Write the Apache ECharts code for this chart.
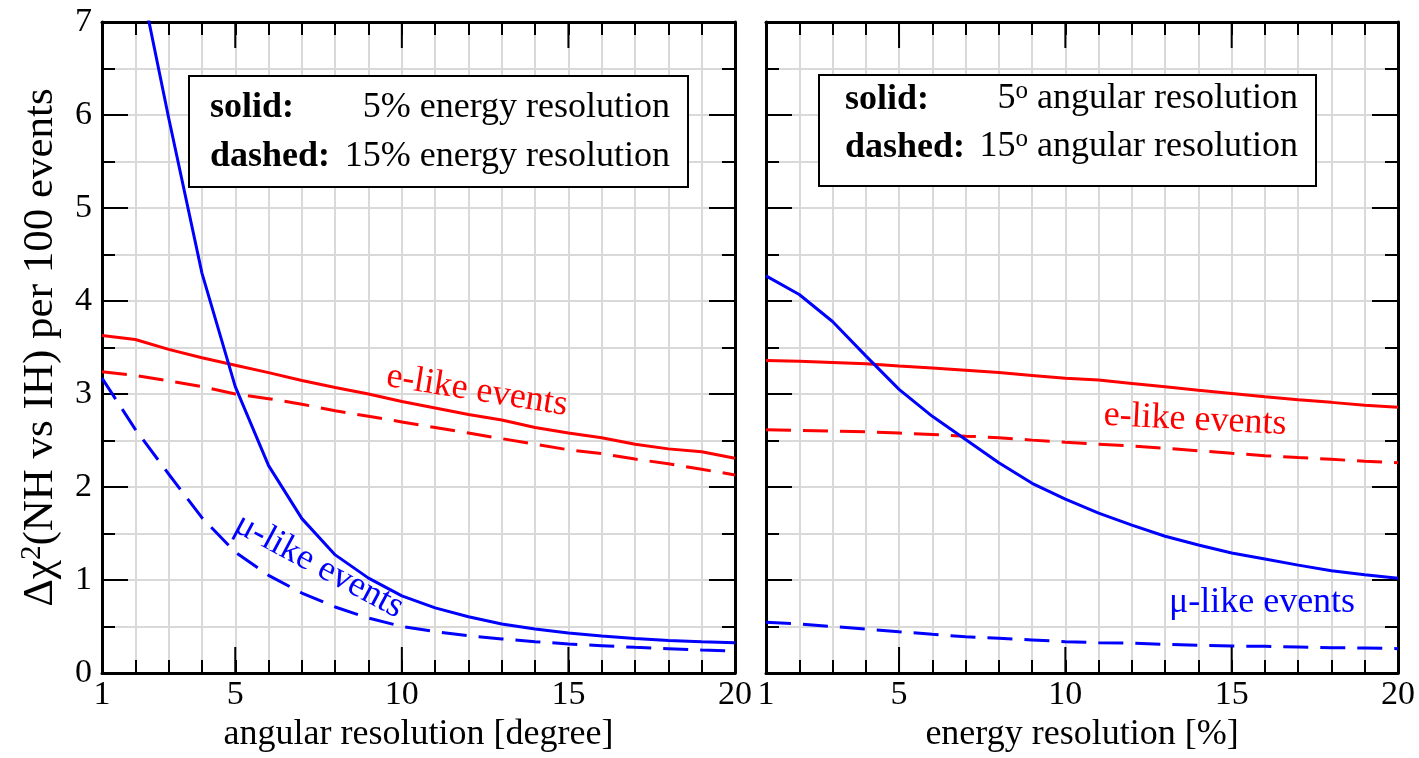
<!DOCTYPE html>
<html>
<head>
<meta charset="utf-8">
<script src="https://cdn.jsdelivr.net/npm/echarts@6/dist/echarts.min.js"></script>
<style>
html,body{margin:0;padding:0;background:#ffffff;}
#chart{width:1419px;height:758px;}
</style>
</head>
<body>
<div id="chart"></div>
<script>
// ---------- data ----------
const xValues = [1,2,3,4,5,6,7,8,9,10,11,12,13,14,15,16,17,18,19,20];
const xTickLabels = [1,5,10,15,20];
const xMajorTicks = [5,10,15];
const yTickLabels = [0,1,2,3,4,5,6,7];

// left panel: x = angular resolution [degree]
const leftMuSolid  = [10.4,7.72,5.97,4.30,3.08,2.23,1.66,1.27,1.02,0.83,0.70,0.605,0.527,0.473,0.43,0.398,0.37,0.35,0.337,0.326];
const leftMuDashed = [3.17,2.62,2.14,1.67,1.30,1.05,0.86,0.71,0.59,0.50,0.445,0.40,0.366,0.337,0.312,0.294,0.276,0.262,0.247,0.237];
const leftESolid   = [3.63,3.586,3.48,3.39,3.31,3.23,3.145,3.07,3.0,2.92,2.85,2.78,2.72,2.64,2.58,2.53,2.46,2.41,2.38,2.31];
const leftEDashed  = [3.24,3.20,3.14,3.08,3.0,2.95,2.89,2.82,2.76,2.70,2.64,2.58,2.52,2.46,2.40,2.36,2.30,2.25,2.19,2.13];

// right panel: x = energy resolution [%]
const rightMuSolid  = [4.27,4.07,3.78,3.41,3.05,2.76,2.51,2.26,2.04,1.87,1.72,1.59,1.47,1.376,1.29,1.225,1.16,1.10,1.057,1.018];
const rightMuDashed = [0.545,0.527,0.50,0.473,0.444,0.416,0.39,0.373,0.355,0.337,0.326,0.32,0.308,0.297,0.29,0.287,0.28,0.272,0.269,0.262];
const rightESolid   = [3.36,3.353,3.34,3.325,3.30,3.28,3.256,3.23,3.20,3.17,3.15,3.114,3.078,3.04,3.005,2.97,2.937,2.91,2.88,2.857];
const rightEDashed  = [2.615,2.607,2.60,2.593,2.58,2.565,2.547,2.53,2.504,2.48,2.46,2.442,2.417,2.39,2.363,2.337,2.316,2.298,2.276,2.262];

const leftXName = 'angular resolution [degree]';
const rightXName = 'energy resolution [%]';
const yName = '{n|Δχ}{s|2}{n|(NH vs IH) per 100 events}';

// ---------- styling ----------
const FONT = '"Liberation Serif", "Times New Roman", serif';
const RED = '#ff0000';
const BLUE = '#0000ff';
const GRIDC = '#d9d9d9';
const DASH = [25, 12];
const X_MIN = 1, X_MAX = 20, Y_MIN = 0, Y_MAX = 7;
const MAJOR_TICK_LEN = 26;

function pairs(ys){ return xValues.map((x,i)=>[x, ys[i]]); }

function panelXAxes(gridIndex, name){
  const base = {type:'value', gridIndex, min:X_MIN, max:X_MAX, interval:1, offset:0};
  return [
    Object.assign({}, base, {
      position:'bottom',
      axisLine:{show:true, onZero:false, lineStyle:{color:'#000', width:3}},
      axisTick:{show:true, inside:true, length:13, lineStyle:{color:'#000', width:2}},
      axisLabel:{show:true, margin:5, color:'#000', fontFamily:FONT, fontSize:34,
        formatter:v => xTickLabels.indexOf(v) >= 0 ? String(v) : ''},
      splitLine:{show:true, lineStyle:{color:GRIDC, width:2}},
      name:name, nameLocation:'middle', nameGap:44,
      nameTextStyle:{color:'#000', fontFamily:FONT, fontSize:36}
    }),
    Object.assign({}, base, {
      position:'top',
      axisLine:{show:true, onZero:false, lineStyle:{color:'#000', width:3}},
      axisTick:{show:true, inside:true, length:13, lineStyle:{color:'#000', width:2}},
      axisLabel:{show:false},
      splitLine:{show:false}
    })
  ];
}

function panelYAxes(gridIndex, withLabels){
  const base = {type:'value', gridIndex, min:Y_MIN, max:Y_MAX, interval:1, offset:0};
  const tick = {show:true, inside:true, length:26, lineStyle:{color:'#000', width:2}};
  const minor = {show:true, splitNumber:2, length:13, lineStyle:{color:'#000', width:2}};
  const left = Object.assign({}, base, {
    position:'left',
    axisLine:{show:true, onZero:false, lineStyle:{color:'#000', width:3}},
    axisTick:tick, minorTick:minor,
    axisLabel:{show:withLabels, margin:10, color:'#000', fontFamily:FONT, fontSize:34,
      formatter:v => yTickLabels.indexOf(v) >= 0 ? String(v) : ''},
    splitLine:{show:true, lineStyle:{color:GRIDC, width:2}},
    minorSplitLine:{show:true, lineStyle:{color:GRIDC, width:2}}
  });
  if (withLabels) {
    left.name = yName;
    left.nameLocation = 'middle';
    left.nameGap = 40;
    left.nameTextStyle = {
      color:'#000', fontFamily:FONT, fontSize:43,
      rich:{
        n:{fontFamily:FONT, fontSize:43, lineHeight:44, color:'#000', verticalAlign:'bottom', padding:[24,0,0,0]},
        s:{fontFamily:FONT, fontSize:29, lineHeight:29, color:'#000', verticalAlign:'top'}
      }
    };
  }
  const right = Object.assign({}, base, {
    position:'right',
    axisLine:{show:true, onZero:false, lineStyle:{color:'#000', width:3}},
    axisTick:tick, minorTick:minor,
    axisLabel:{show:false},
    splitLine:{show:false}, minorSplitLine:{show:false}
  });
  return [left, right];
}

function lineSeries(xi, yi, ys, color, dashed){
  return {
    type:'line', xAxisIndex:xi, yAxisIndex:yi, data:pairs(ys),
    showSymbol:false, symbol:'none', smooth:false, clip:true, silent:true,
    lineStyle:{color:color, width:3, type: dashed ? DASH : 'solid'},
    z:3
  };
}

// long x ticks at 5, 10, 15 on bottom and top frame, placed through the axis scale
function majorTickSeries(xi, yi){
  return {
    type:'custom', xAxisIndex:xi, yAxisIndex:yi, silent:true, clip:false, z:4,
    data: xMajorTicks.map(v => [v, Y_MIN]),
    encode:{x:0, y:1},
    renderItem:function(params, api){
      const v = api.value(0);
      const pb = api.coord([v, Y_MIN]);
      const pt = api.coord([v, Y_MAX]);
      const st = {stroke:'#000', lineWidth:2};
      return {type:'group', children:[
        {type:'line', shape:{x1:pb[0], y1:pb[1], x2:pb[0], y2:pb[1] - MAJOR_TICK_LEN}, style:st},
        {type:'line', shape:{x1:pt[0], y1:pt[1], x2:pt[0], y2:pt[1] + MAJOR_TICK_LEN}, style:st}
      ]};
    }
  };
}

function txt(x, y, text, opts){
  return Object.assign({
    type:'text', x:x, y:y, z:50,
    style:Object.assign({
      text:text, fill:'#000', font:'36px ' + FONT,
      align:'left', verticalAlign:'middle', textAlign:'left', textVerticalAlign:'middle'
    }, opts && opts.style || {})
  }, opts && opts.el || {});
}

const supRich = {
  n:{fontFamily:FONT, fontSize:36, lineHeight:38, fill:'#000', verticalAlign:'bottom', padding:[4,0,0,0]},
  s:{fontFamily:FONT, fontSize:25, lineHeight:25, fill:'#000', verticalAlign:'top'}
};

const leftRect  = {left:102, top:22, width:633, height:651};
const rightRect = {left:766, top:22, width:632, height:651};
function gridOf(r){ return Object.assign({containLabel:false, outerBoundsMode:'none'}, r); }

const option = {
  backgroundColor:'#ffffff',
  animation:false,
  grid:[gridOf(leftRect), gridOf(rightRect)],
  xAxis:[].concat(panelXAxes(0, leftXName), panelXAxes(1, rightXName)),
  yAxis:[].concat(panelYAxes(0, true), panelYAxes(1, false)),
  series:[
    majorTickSeries(0, 0),
    majorTickSeries(2, 2),
    lineSeries(0, 0, leftESolid, RED, false),
    lineSeries(0, 0, leftEDashed, RED, true),
    lineSeries(0, 0, leftMuSolid, BLUE, false),
    lineSeries(0, 0, leftMuDashed, BLUE, true),
    lineSeries(2, 2, rightESolid, RED, false),
    lineSeries(2, 2, rightEDashed, RED, true),
    lineSeries(2, 2, rightMuSolid, BLUE, false),
    lineSeries(2, 2, rightMuDashed, BLUE, true)
  ],
  graphic:[
    // left legend box
    {type:'rect', z:40, shape:{x:189, y:76, width:499, height:111}, style:{fill:'#fff', stroke:'#000', lineWidth:2}},
    txt(210, 108, 'solid:', {style:{font:'bold 36px ' + FONT}}),
    txt(210, 157, 'dashed:', {style:{font:'bold 36px ' + FONT}}),
    txt(670, 108, '5% energy resolution', {style:{align:'right', textAlign:'right'}}),
    txt(670, 157, '15% energy resolution', {style:{align:'right', textAlign:'right'}}),
    // right legend box
    {type:'rect', z:40, shape:{x:819, y:75, width:497, height:111}, style:{fill:'#fff', stroke:'#000', lineWidth:2}},
    txt(845, 100, 'solid:', {style:{font:'bold 36px ' + FONT}}),
    txt(845, 148, 'dashed:', {style:{font:'bold 36px ' + FONT}}),
    txt(1298, 98, '{n|5}{s|o}{n| angular resolution}', {style:{align:'right', textAlign:'right', rich:supRich}}),
    txt(1298, 146, '{n|15}{s|o}{n| angular resolution}', {style:{align:'right', textAlign:'right', rich:supRich}}),
    // curve annotations
    txt(477, 391, 'e-like events', {style:{fill:RED, font:'36px ' + FONT, align:'center', textAlign:'center'}, el:{rotation:-0.16}}),
    txt(319, 566, 'μ-like events', {style:{fill:BLUE, font:'36px ' + FONT, align:'center', textAlign:'center'}, el:{rotation:-0.49}}),
    txt(1195, 420, 'e-like events', {style:{fill:RED, font:'36px ' + FONT, align:'center', textAlign:'center'}, el:{rotation:-0.05}}),
    txt(1262, 603, 'μ-like events', {style:{fill:BLUE, font:'36px ' + FONT, align:'center', textAlign:'center'}})
  ]
};

const chart = echarts.init(document.getElementById('chart'), null, {renderer:'canvas'});
chart.setOption(option);
</script>
</body>
</html>
